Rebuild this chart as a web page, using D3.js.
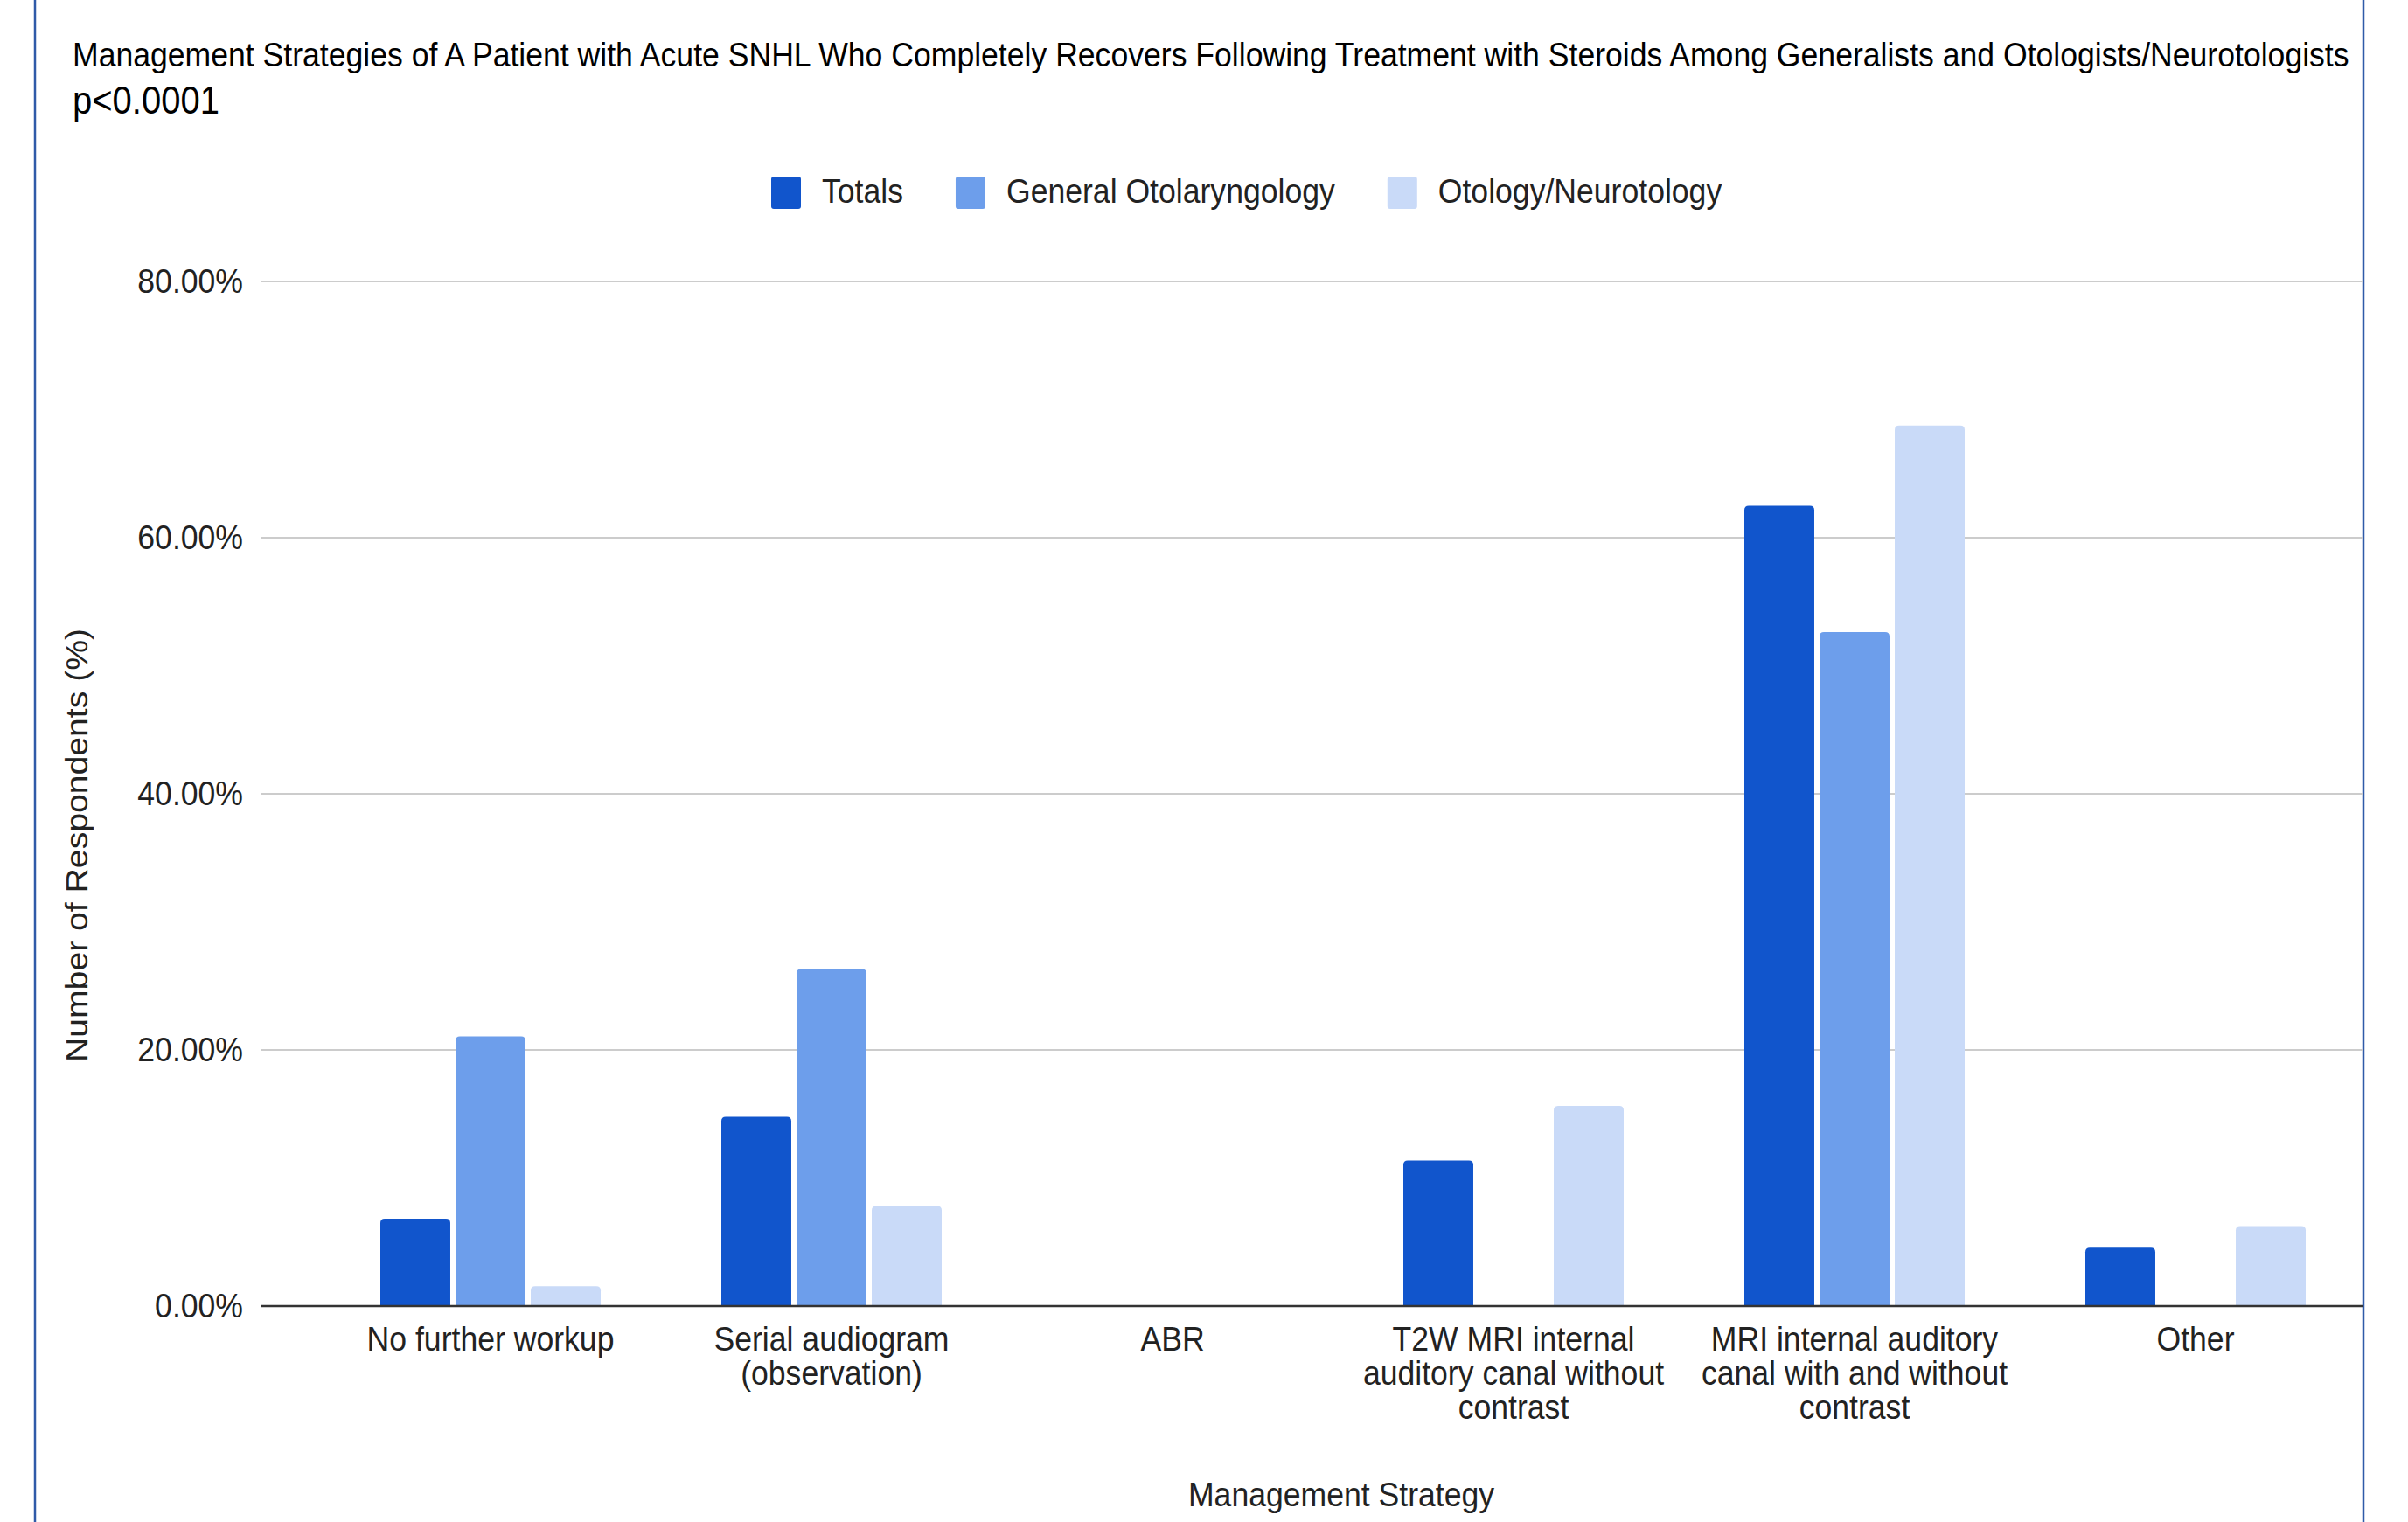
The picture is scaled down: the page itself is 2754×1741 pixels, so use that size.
<!DOCTYPE html>
<html>
<head>
<meta charset="utf-8">
<script src="https://cdn.jsdelivr.net/npm/d3@7"></script>
<style>
  html, body { margin: 0; padding: 0; background: #ffffff; }
  svg { display: block; font-family: "Liberation Sans", Arial, Helvetica, sans-serif; }
</style>
</head>
<body>
<svg id="chart" width="2754" height="1741"></svg>
<script>
// Survey data: share of respondents choosing each management strategy
const categories = [
  ["No further workup"],
  ["Serial audiogram", "(observation)"],
  ["ABR"],
  ["T2W MRI internal", "auditory canal without", "contrast"],
  ["MRI internal auditory", "canal with and without", "contrast"],
  ["Other"]
];
const seriesNames = ["Totals", "General Otolaryngology", "Otology/Neurotology"];
const totals  = [6.82, 14.77, 0, 11.36, 62.5, 4.55];
const general = [21.05, 26.32, 0, 0, 52.63, 0];
const otology = [1.56, 7.81, 0, 15.63, 68.75, 6.25];
const yTicks = [0, 20, 40, 60, 80];
const colors = ["#1155cc", "#6d9eeb", "#c9daf8"];

const titleText = "Management Strategies of A Patient with Acute SNHL Who Completely Recovers Following Treatment with Steroids Among Generalists and Otologists/Neurotologists";
const subtitleText = "p<0.0001";
const xTitle = "Management Strategy";
const yTitle = "Number of Respondents (%)";

const seriesValues = [totals, general, otology];
const catKeys = categories.map(c => c.join(" "));
const rows = catKeys.map((k, i) => ({
  key: k,
  lines: categories[i],
  values: seriesNames.map((s, j) => ({ series: s, idx: j, value: seriesValues[j][i] }))
}));

const svg = d3.select("#chart");
const W = 2754, H = 1741;
const FS = 35.6;       // base font size
const SY = 1.1;        // vertical stretch of lettering

// text drawn with its baseline at (x, y), stretched vertically about the baseline
function label(parent, x, y, str, opts = {}) {
  const g = parent.append("g").attr("transform", `translate(${x},${y}) scale(1,${SY})`);
  return g.append("text").attr("x", 0).attr("y", 0)
    .attr("text-anchor", opts.anchor || "start")
    .attr("font-size", opts.size || FS)
    .attr("fill", opts.fill || "#222")
    .text(str);
}

// frame lines at both sides
svg.append("line").attr("x1", 40).attr("x2", 40).attr("y1", 0).attr("y2", H)
  .attr("stroke", "#2f5aa8").attr("stroke-width", 2.5);
svg.append("line").attr("x1", 2703).attr("x2", 2703).attr("y1", 0).attr("y2", H)
  .attr("stroke", "#2f5aa8").attr("stroke-width", 2.5);

const gridLeft = 299, gridRight = 2702;
const y = d3.scaleLinear().domain([0, 80]).range([1494, 322]);
const x0 = d3.scaleBand().domain(catKeys).range([366, 2706]).padding(0);
const groupW = 252;
const x1 = d3.scaleBand().domain(seriesNames)
  .range([(x0.bandwidth() - groupW) / 2, (x0.bandwidth() + groupW) / 2])
  .paddingInner(0.07).paddingOuter(0);

// titles
label(svg, 83, 76, titleText, { fill: "#000" });
label(svg, 83, 130, subtitleText, { fill: "#000", size: 40 });

// gridlines
svg.append("g")
  .selectAll("line").data(yTicks.filter(t => t !== 0)).join("line")
  .attr("x1", gridLeft).attr("x2", gridRight)
  .attr("y1", d => y(d)).attr("y2", d => y(d))
  .attr("stroke", "#cccccc").attr("stroke-width", 2);

// y axis labels
const yAxis = d3.axisLeft(y).tickValues(yTicks).tickSize(0).tickPadding(21)
  .tickFormat(d => d.toFixed(2) + "%");
const gy = svg.append("g").attr("transform", `translate(${gridLeft},0)`).call(yAxis);
gy.select(".domain").remove();
gy.selectAll("text").attr("font-size", FS).attr("fill", "#222")
  .attr("font-family", "'Liberation Sans', Arial, sans-serif")
  .attr("transform", `scale(1,${SY})`);

// bars with slightly rounded top corners
function barPath(xp, w, top, bottom, r) {
  const h = bottom - top;
  if (h <= 0) return "";
  const rr = Math.min(r, h, w / 2);
  return `M${xp},${bottom}V${top + rr}Q${xp},${top} ${xp + rr},${top}` +
         `H${xp + w - rr}Q${xp + w},${top} ${xp + w},${top + rr}V${bottom}Z`;
}
const groups = svg.append("g").selectAll("g").data(rows).join("g")
  .attr("transform", d => `translate(${x0(d.key)},0)`);
groups.selectAll("path").data(d => d.values.filter(v => v.value > 0)).join("path")
  .attr("d", v => barPath(x1(v.series), x1.bandwidth(), y(v.value), y(0), 5))
  .attr("fill", v => colors[v.idx]);

// baseline
svg.append("line").attr("x1", gridLeft).attr("x2", gridRight)
  .attr("y1", y(0)).attr("y2", y(0))
  .attr("stroke", "#333333").attr("stroke-width", 2.5);

// category labels
const xl = svg.append("g");
rows.forEach(r => {
  const cx = x0(r.key) + x0.bandwidth() / 2;
  r.lines.forEach((ln, i) => {
    label(xl, cx, 1545 + i * 39, ln, { anchor: "middle" });
  });
});

// axis titles
label(svg, 1534, 1723, xTitle, { anchor: "middle" });
svg.append("text").attr("transform", `translate(100,967) scale(1,${SY}) rotate(-90)`)
  .attr("text-anchor", "middle").attr("font-size", FS).attr("fill", "#222").text(yTitle);

// legend
const legend = svg.append("g");
let lx = 882;
seriesNames.forEach((s, i) => {
  legend.append("rect").attr("x", lx).attr("y", 202).attr("width", 34).attr("height", 37)
    .attr("rx", 3).attr("fill", colors[i]);
  const t = label(legend, lx + 58, 232, s);
  lx = lx + 58 + t.node().getComputedTextLength() + 60;
});
</script>
</body>
</html>
